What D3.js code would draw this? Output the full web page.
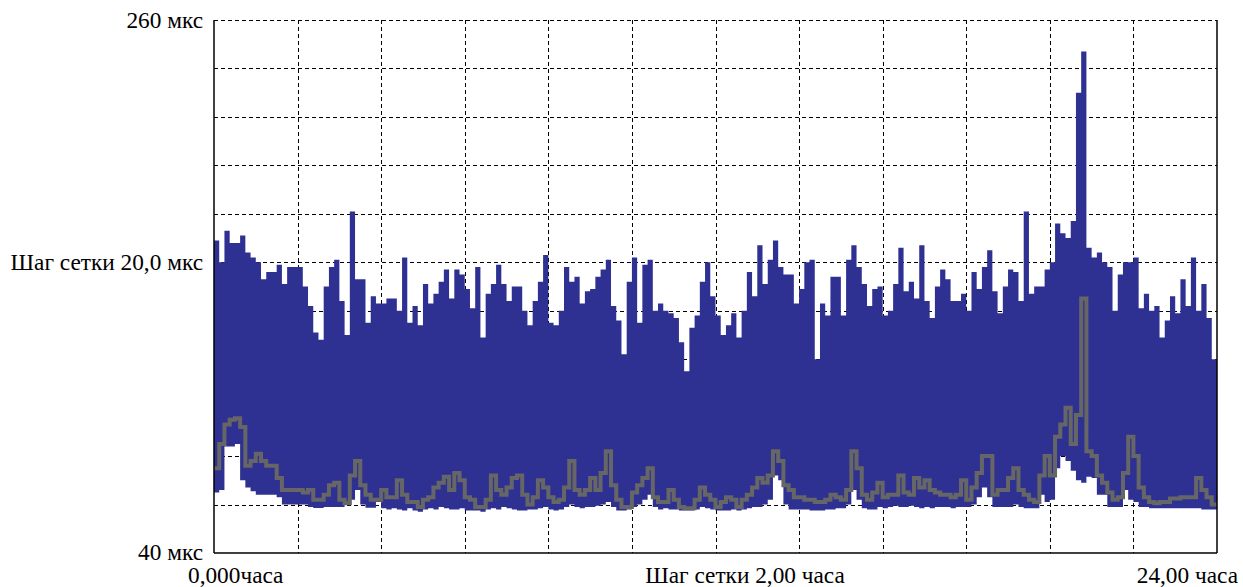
<!DOCTYPE html>
<html>
<head>
<meta charset="utf-8">
<script src="https://cdn.jsdelivr.net/npm/d3@7"></script>
<style>
  body { margin: 0; background: #fff; }
  text { font-family: "Liberation Serif", "Times New Roman", serif; fill: #000; }
</style>
</head>
<body>
<svg id="chart" width="1243" height="587"></svg>
<script>
// Sampling interval of the series, hours
const SAMPLE_STEP_H = 0.125;

// Maximum delay per sample interval, мкс
const maxUs = [
  169,160,173,168,168,171,164,162,160,153,156,156,159,151,158,158,158,150,142,131,
  128,150,158,161,144,130,181,153,153,135,146,143,143,145,145,140,162,135,142,134,
  151,143,147,152,157,145,157,155,149,141,158,129,147,151,159,151,144,150,150,140,
  134,144,152,163,135,134,140,158,152,154,143,148,149,154,157,161,142,136,122,152,
  162,135,159,161,140,143,140,139,137,127,115,133,138,152,160,146,138,130,134,139,
  129,140,156,146,167,151,161,169,158,155,155,143,149,160,161,120,143,138,154,154,
  138,161,167,158,151,142,149,150,138,140,151,166,148,152,145,167,144,137,150,157,
  153,144,144,147,140,156,149,158,165,148,139,150,157,156,144,181,147,150,150,157,
  160,176,172,170,177,230,247,166,162,164,160,158,140,155,160,160,162,141,147,140,
  142,129,136,146,139,153,142,162,140,151,137,120
];

// Minimum delay per sample interval, мкс
const minUs = [
  65,66,84,84,85,70,67,65.5,64,64,64,64,63,60,60,60,60,60,59,58.6,
  58.6,59,59,59,59,61,62,66,60,58.7,58.7,61,58.5,58,58.5,58,57.5,58.5,57.5,57,
  58,58.5,58,59,58.5,58,58,58.5,57.5,57.5,57.5,57,58,58.5,58,59,58.5,58,57.5,57.5,
  58,58,58.5,59,58,57.5,58,59,60,59,58.5,59,59,59.5,60,61,59,57.5,57.5,58,
  59,60,62,64,59,58,58.5,58,58,57.5,57.5,57.5,58,59,58.5,58,57.5,57.5,57.5,58,
  57.5,58,58.5,59,59,60,62,72,70,60,58,58,58,58,57.5,57.5,57.5,58,58,58.5,
  58.5,60,66,62,58.5,58,58,59,58.5,59,59.5,59,59,59.5,59,58.5,59,58.5,59,59,
  59,58.5,59,59,59,60,63,67,63,59,59,59,59,60,59,58.5,58.5,58.5,64,61,
  62,75,80,78,74,70,69,71.5,71,64,64,59,59,59,66,62,61,59,59,58.5,
  58.5,58.5,58.5,58.5,58.5,58.5,58.5,58.5,58.5,58,58,58
];

// Mean delay per sample interval, мкс
const meanUs = [
  75,85,93,95,95.6,92,76,78,81,78,76,76,71,66,66,66,66,65,66,62,
  62,64,68,69,62,60.5,72,78,68,64,62,62,66,63,63,70,64,61,61,59,
  62,63,67,69,71.5,66,73,70,63,62,59,59,62,72,66,64,67,71,72,64,
  60,63,70,67,63,61,62,67,78,66,64,66,71,66,73,82,68,62,59,59,
  65,68,71,75,63,61,61,66,62,59,58.5,58.5,62,67,64,62,59,61,63,62,
  59,62,64,67,71,69,72,82,78,68,66,63,63,62,62,61,61,62,64,63,
  62,66,82,75,64,62,65,69,63,64,64,72,65,64,71,67,70,66,65,64,
  64,63,64,70,62,67,73,80,80,64,66,66,71,75,66,64,62,61,72,80,
  72,88,93,100,85,97,145,82,80,72,69,65,62,63,73,88,80,67,63,61,
  60.5,61,61,62.5,62.5,63,63,63,71,66,63,60
];

// Grid values and axis texts
const yGrid = [60, 80, 100, 120, 140, 160, 180, 200, 220, 240, 260];
const xGrid = [2, 4, 6, 8, 10, 12, 14, 16, 18, 20, 22];
const yDomain = [40, 260];
const xDomain = [0, 24];
const yLabelTop = "260 мкс";
const yLabelMid = "Шаг сетки 20,0 мкс";
const yLabelBottom = "40 мкс";
const xLabelLeft = "0,000часа";
const xLabelMid = "Шаг сетки 2,00 часа";
const xLabelRight = "24,00 часа";

const plot = { left: 214, right: 1217, top: 20, bottom: 553 };
const svg = d3.select("#chart");

const x = d3.scaleLinear().domain(xDomain).range([plot.left, plot.right]);
const y = d3.scaleLinear().domain(yDomain).range([plot.bottom, plot.top]);

// dashed grid
const grid = svg.append("g").attr("stroke", "#000").attr("stroke-width", 1)
  .attr("stroke-dasharray", "4,3").attr("shape-rendering", "crispEdges");
grid.selectAll("line.h").data(yGrid).join("line").attr("class", "h")
  .attr("x1", plot.left).attr("x2", plot.right)
  .attr("y1", d => Math.round(y(d)) + 0.5).attr("y2", d => Math.round(y(d)) + 0.5);
grid.selectAll("line.v").data(xGrid).join("line").attr("class", "v")
  .attr("y1", plot.top).attr("y2", plot.bottom)
  .attr("x1", d => Math.round(x(d)) + 0.5).attr("x2", d => Math.round(x(d)) + 0.5);

// min–max band
const band = maxUs.map((v, i) => ({ t: i * SAMPLE_STEP_H, hi: v, lo: minUs[i] }));
band.push({ t: xDomain[1], hi: maxUs[maxUs.length - 1], lo: minUs[minUs.length - 1] });
svg.append("path").datum(band)
  .attr("fill", "#2E3192")
  .attr("d", d3.area().curve(d3.curveStepAfter)
    .x(d => x(d.t)).y0(d => y(d.lo)).y1(d => y(d.hi)));

// mean line
const mean = meanUs.map((v, i) => ({ t: i * SAMPLE_STEP_H, v }));
mean.push({ t: xDomain[1], v: meanUs[meanUs.length - 1] });
svg.append("path").datum(mean)
  .attr("fill", "none").attr("stroke", "#666666").attr("stroke-width", 4)
  .attr("stroke-linejoin", "miter")
  .attr("d", d3.line().curve(d3.curveStepAfter).x(d => x(d.t)).y(d => y(d.v)));

// frame: solid left, bottom, right
const frame = svg.append("g").attr("stroke", "#000").attr("stroke-width", 1.5).attr("fill", "none");
frame.append("line").attr("x1", plot.left).attr("x2", plot.left).attr("y1", plot.top).attr("y2", plot.bottom);
frame.append("line").attr("x1", plot.left).attr("x2", plot.right).attr("y1", plot.bottom).attr("y2", plot.bottom);
frame.append("line").attr("x1", plot.right).attr("x2", plot.right).attr("y1", plot.top).attr("y2", plot.bottom);

// axis texts
const fs = 23.3;
svg.append("text").attr("x", 203).attr("y", y(yDomain[1]) + 8).attr("text-anchor", "end")
  .attr("font-size", fs).text(yLabelTop);
svg.append("text").attr("x", 203).attr("y", y(160) + 8).attr("text-anchor", "end")
  .attr("font-size", fs).text(yLabelMid);
svg.append("text").attr("x", 203).attr("y", y(yDomain[0]) + 7).attr("text-anchor", "end")
  .attr("font-size", fs).text(yLabelBottom);
svg.append("text").attr("x", 188).attr("y", 583).attr("font-size", fs).text(xLabelLeft);
svg.append("text").attr("x", 745).attr("y", 583).attr("text-anchor", "middle")
  .attr("font-size", fs).text(xLabelMid);
svg.append("text").attr("x", 1238).attr("y", 583).attr("text-anchor", "end")
  .attr("font-size", fs).text(xLabelRight);
</script>
</body>
</html>
